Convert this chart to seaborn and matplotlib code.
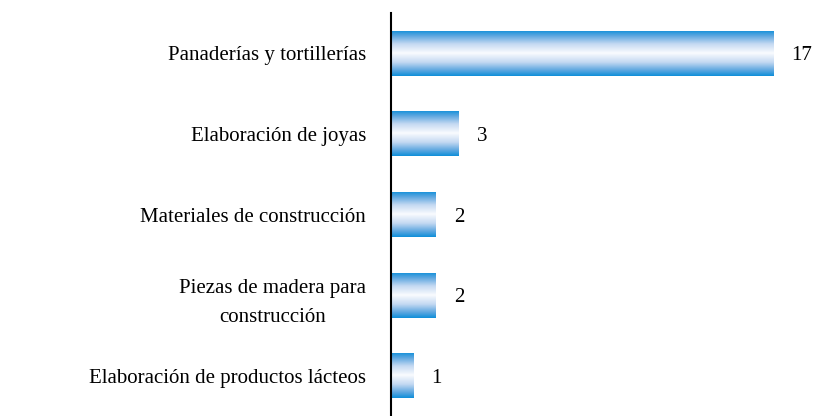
import numpy as np
import pandas as pd
import matplotlib
matplotlib.use("Agg")
import matplotlib.pyplot as plt
import seaborn as sns
from matplotlib.colors import LinearSegmentedColormap

# Data
categorias = [
    "Panaderías y tortillerías",
    "Elaboración de joyas",
    "Materiales de construcción",
    "Piezas de madera para\nconstrucción",
    "Elaboración de productos lácteos",
]
valores = [17, 3, 2, 2, 1]

df = pd.DataFrame({"categoria": categorias, "valor": valores})

sns.set_style("white")
plt.rcParams["font.family"] = ["Liberation Serif", "DejaVu Serif"]
plt.rcParams["text.color"] = "black"
plt.rcParams["ytick.color"] = "black"

fig = plt.figure(figsize=(8.18, 4.16), dpi=100)
ax = fig.add_axes([391 / 818, 0.0, 405 / 818, 403 / 416])

sns.barplot(data=df, x="valor", y="categoria", orient="h", width=0.56,
            color="#1a90d8", ax=ax)

# vertical gradient: blue at edges, white in the middle
cmap = LinearSegmentedColormap.from_list(
    "grad", [(0.0, "#f9fbfe"), (0.4, "#c4d9f2"), (0.75, "#5ea7e0"), (1.0, "#0f8fd9")])
t = np.linspace(0, 1, 200)
grad = (np.abs(t - 0.5) * 2)[:, None]

for p in ax.patches:
    x0, y0 = p.get_x(), p.get_y()
    w, h = p.get_width(), p.get_height()
    p.set_facecolor("none")
    p.set_edgecolor("none")
    im = ax.imshow(grad, cmap=cmap, vmin=0, vmax=1, aspect="auto",
                   extent=[x0, x0 + w, y0 + h, y0], interpolation="bilinear", zorder=2)
    im.set_clip_path(p)

ax.set_xlim(0, 18)
ax.set_ylim(4.5, -0.5)

for i, v in enumerate(valores):
    ax.annotate(str(v), xy=(v, i), xytext=(13, 0), textcoords="offset points",
                ha="left", va="center_baseline", fontsize=15, color="black")

ax.set_xlabel("")
ax.set_ylabel("")
ax.set_xticks([])
ax.tick_params(axis="y", length=0, pad=18, labelsize=15, labelcolor="black")
for lbl in ax.get_yticklabels():
    lbl.set_multialignment("center")
    lbl.set_linespacing(1.75)
    lbl.set_verticalalignment("center_baseline")

sns.despine(ax=ax, top=True, right=True, bottom=True, left=False)
ax.spines["left"].set_color("black")
ax.spines["left"].set_linewidth(1.5)

fig.savefig("out.png", dpi=100)
